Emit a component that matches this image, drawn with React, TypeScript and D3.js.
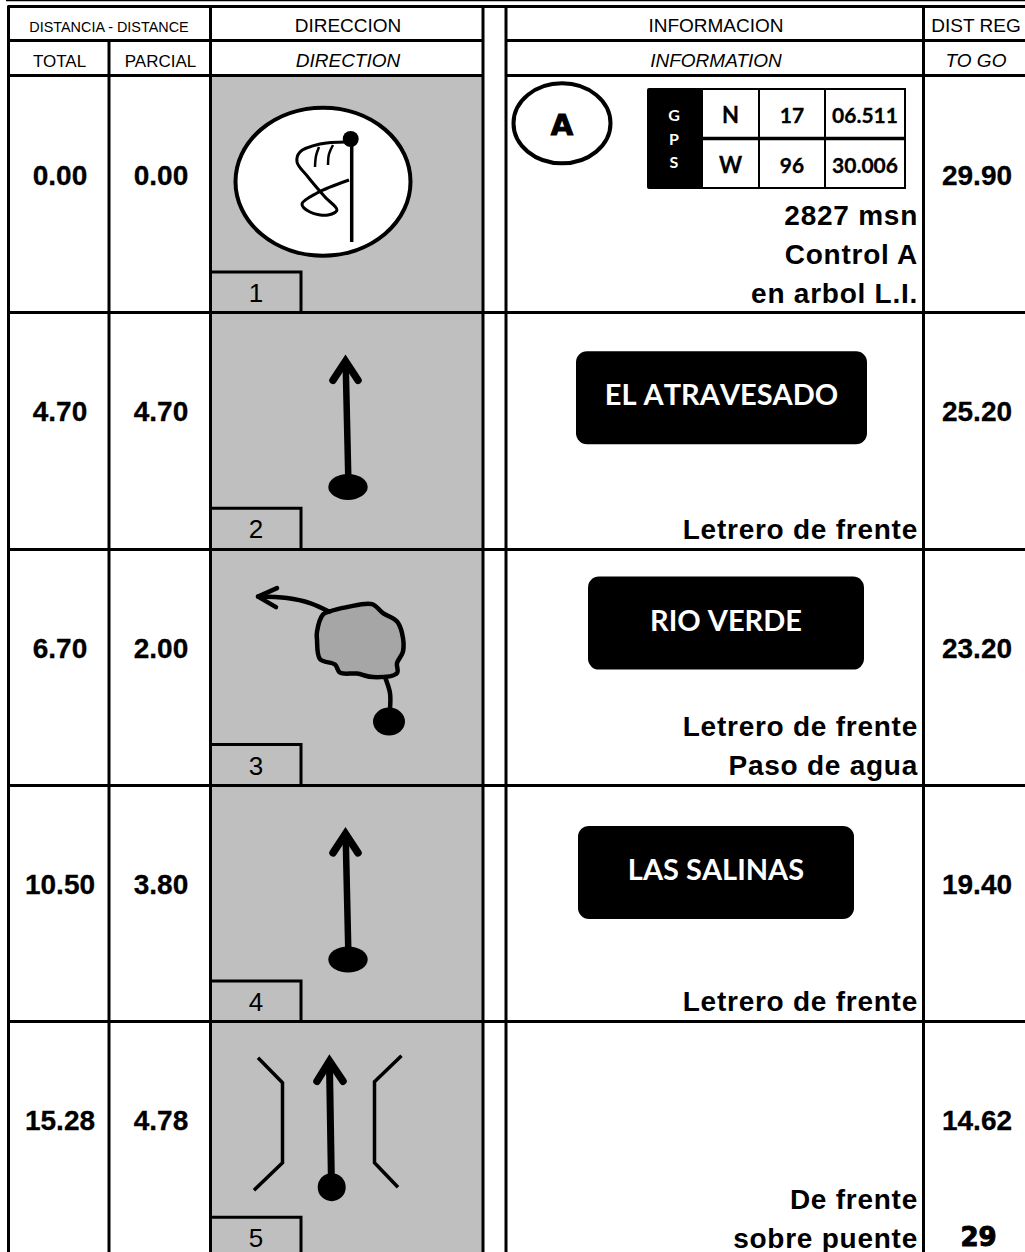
import React from "react";
import * as d3 from "d3";

const width = 1025;
const height = 1252;

// table data
const totals = ["0.00", "4.70", "6.70", "10.50", "15.28"];
const parciales = ["0.00", "4.70", "2.00", "3.80", "4.78"];
const toGo = ["29.90", "25.20", "23.20", "19.40", "14.62"];
const infoLines = [
  ["2827 msn", "Control A", "en arbol L.I."],
  ["Letrero de frente"],
  ["Letrero de frente", "Paso de agua"],
  ["Letrero de frente"],
  ["De frente", "sobre puente"],
];
const signNames = ["", "EL ATRAVESADO", "RIO VERDE", "LAS SALINAS", ""];
const signLeft = [0, 576, 588, 578, 0];
const signRight = [0, 867, 864, 854, 0];
const signTop = [0, 39, 28, 41, 0];
const gpsRows = [
  ["N", "17", "06.511"],
  ["W", "96", "30.006"],
];
const gpsLetters = ["G", "P", "S"];
const columnEdges = [8.5, 109, 210.5, 483, 506, 923.5];
const pageNumber = "29";

const rowY = d3.scaleLinear().domain([0, 5]).range([76, 1257.5]);
const sans = "'Liberation Sans', Arial, sans-serif";
const calibri = "Lato, sans-serif";
const gray = "#bfbfbf";
const grid = 3;

const curve = d3.line().curve(d3.curveCatmullRom.alpha(0.5));
const straight = d3.line();
const closed = d3.line().curve(d3.curveCatmullRomClosed.alpha(0.5));

// hand drawn icons, points are local to the row top
const flagCloth: [number, number][] = [[347, 66], [320, 68], [300, 76], [297, 86], [308, 101], [325, 121], [337, 134], [328, 139], [310, 136], [302, 128], [317, 117], [349, 104]];
const lakeOutline: [number, number][] = [[329, 63], [347, 58.5], [372, 55.5], [383, 64.5], [397, 73], [402, 84.5], [403, 103], [397, 114.5], [397, 124.5], [373, 128.5], [357, 125], [340, 124], [335, 116], [320, 110.5], [317, 91], [317, 83], [323, 66]];
const lakeExit: [number, number][] = [[329, 63], [310, 54.5], [287, 49.5], [258, 48]];
const lakeEntry: [number, number][] = [[385, 128.5], [390, 144.5], [390, 160]];

function Arrow() {
  return (
    <g fill="none" stroke="#000">
      <path d={straight([[348.3, 166], [345.7, 52]]) ?? ""} strokeWidth={6.5} />
      <path d={straight([[333, 68], [345.5, 49], [358, 68]]) ?? ""} strokeWidth={7.5} strokeLinecap="round" strokeLinejoin="miter" />
      <ellipse cx={348} cy={174.6} rx={19.7} ry={13} fill="#000" stroke="none" />
    </g>
  );
}

function Flag() {
  return (
    <g fill="none" stroke="#000" strokeWidth={3.5}>
      <ellipse cx={323} cy={105.7} rx={87.5} ry={74} fill="#fff" strokeWidth={4} />
      <path d={curve(flagCloth) ?? ""} strokeWidth={3} />
      <path d={curve([[315, 91], [316, 80], [319, 71]]) ?? ""} strokeWidth={2.5} />
      <path d={curve([[328, 89], [329, 78], [333, 69]]) ?? ""} strokeWidth={2.5} />
      <path d={straight([[351.7, 64], [351.7, 166]]) ?? ""} />
      <circle cx={350.7} cy={63} r={8} fill="#000" stroke="none" />
    </g>
  );
}

function Lake() {
  return (
    <g fill="none" stroke="#000" strokeWidth={4.5} strokeLinecap="round" strokeLinejoin="round">
      <path d={closed(lakeOutline) ?? ""} fill="#a6a6a6" />
      <path d={curve(lakeExit) ?? ""} />
      <path d={straight([[277, 39.5], [258, 48], [276, 58.5]]) ?? ""} />
      <path d={curve(lakeEntry) ?? ""} />
      <ellipse cx={389} cy={173} rx={16} ry={14} fill="#000" stroke="none" />
    </g>
  );
}

function Bridge() {
  return (
    <g fill="none" stroke="#000">
      <path d={straight([[258, 36.5], [282.5, 61.5], [282.5, 141.5], [254, 169]]) ?? ""} strokeWidth={3.5} />
      <path d={straight([[401.5, 34.5], [374.5, 60.5], [374.5, 141.5], [398, 166]]) ?? ""} strokeWidth={3.5} />
      <path d={straight([[331.5, 166], [329.5, 45]]) ?? ""} strokeWidth={7} />
      <path d={straight([[317, 60], [329.5, 40], [343, 60]]) ?? ""} strokeWidth={7.5} strokeLinecap="round" strokeLinejoin="miter" />
      <circle cx={331.7} cy={166} r={14} fill="#000" stroke="none" />
    </g>
  );
}

const icons = [Flag, Arrow, Lake, Arrow, Bridge];

function Gps() {
  const cols = [702, 759, 825, 905];
  const rows = [89, 139, 188];
  return (
    <g>
      <rect x={647} y={88} width={56} height={101} rx={2} fill="#000" />
      {gpsLetters.map((l, i) => (
        <text key={l} x={674} y={121 + i * 23.5} textAnchor="middle" fontFamily={calibri} fontWeight={700} fontSize={16} fill="#fff">{l}</text>
      ))}
      {gpsRows.map((r, i) => r.map((v, j) => (
        <g key={v}>
          <rect x={cols[j]} y={rows[i]} width={cols[j + 1] - cols[j]} height={rows[i + 1] - rows[i]} fill="#fff" stroke="#000" strokeWidth={2} />
          <text x={(cols[j] + cols[j + 1]) / 2} y={rows[i] + 33.5} textAnchor="middle" fontFamily={calibri} fontWeight={700} fontSize={j === 0 ? 22 : 21} fill="#000" stroke="#000" strokeWidth={0.3}>{v}</text>
        </g>
      )))}
      <line x1={702} x2={905} y1={138.5} y2={138.5} stroke="#000" strokeWidth={3.5} />
    </g>
  );
}

export default function App() {
  const [x0, x1, x2, x3, x4] = columnEdges;
  const tops = d3.range(5).map((i) => rowY(i));
  const hLine = (y: number, a: number, b: number, w = grid) => (
    <line key={`${y}-${a}`} x1={a} x2={b} y1={y} y2={y} stroke="#000" strokeWidth={w} />
  );
  const vLine = (x: number, a: number, b: number) => (
    <line key={`${x}-${a}`} x1={x} x2={x} y1={a} y2={b} stroke="#000" strokeWidth={grid} />
  );
  const header = (label: string, x: number, y: number, size: number, italic = false) => (
    <text key={label} x={x} y={y} textAnchor="middle" fontFamily={sans} fontSize={size} fontStyle={italic ? "italic" : "normal"} fill="#000">{label}</text>
  );

  return (
    <svg width={width} height={height} style={{ position: "absolute", left: 0, top: 0, background: "#fff" }}>
      <rect x={x2} y={rowY(0)} width={x3 - x2} height={height - rowY(0)} fill={gray} />

      {hLine(0.5, 6, width, 1.5)}
      {hLine(6.5, x0 - 1, width)}
      {hLine(40.5, x0, x3)}
      {hLine(40.5, x4, width)}
      {hLine(75.5, x0, x3)}
      {hLine(75.5, x4, width)}

      {tops.map((top, i) => {
        const Icon = icons[i];
        const lines = infoLines[i];
        return (
          <g key={i} transform={`translate(0,${top})`}>
            <text x={60} y={109} textAnchor="middle" fontFamily={sans} fontWeight={700} fontSize={28} stroke="#000" strokeWidth={0.3}>{totals[i]}</text>
            <text x={161} y={109} textAnchor="middle" fontFamily={sans} fontWeight={700} fontSize={28} stroke="#000" strokeWidth={0.3}>{parciales[i]}</text>
            <text x={977} y={109} textAnchor="middle" fontFamily={sans} fontWeight={700} fontSize={28} stroke="#000" strokeWidth={0.3}>{toGo[i]}</text>
            <Icon />
            <path d={straight([[x2, 196], [301, 196], [301, 237]]) ?? ""} fill="none" stroke="#000" strokeWidth={grid} />
            <text x={256} y={226} textAnchor="middle" fontFamily={sans} fontSize={26}>{i + 1}</text>
            {lines.map((l, k) => (
              <text key={l} x={918} y={226.5 - (lines.length - 1 - k) * 39} textAnchor="end" fontFamily={sans} fontWeight={700} fontSize={28} letterSpacing={0.75}>{l}</text>
            ))}
            {signNames[i] && (
              <g>
                <rect x={signLeft[i]} y={signTop[i]} width={signRight[i] - signLeft[i]} height={93} rx={11} fill="#000" />
                <text x={(signLeft[i] + signRight[i]) / 2} y={signTop[i] + 54} textAnchor="middle" fontFamily={calibri} fontWeight={700} fontSize={29} fill="#fff" style={{ fontKerning: "none" }}>{signNames[i]}</text>
              </g>
            )}
          </g>
        );
      })}

      {d3.range(1, 5).map((i) => hLine(Math.round(rowY(i)) + 0.5, x0 - 1, width))}
      {columnEdges.filter((x) => x !== x1).map((x) => vLine(x, 6, height))}
      {vLine(x1, 40, height)}

      {header("DISTANCIA - DISTANCE", 109, 32, 14.4)}
      {header("TOTAL", 59.5, 67, 17)}
      {header("PARCIAL", 160.5, 67, 17)}
      {header("DIRECCION", 348, 32, 19)}
      {header("DIRECTION", 348, 67, 19, true)}
      {header("INFORMACION", 716, 32, 19)}
      {header("INFORMATION", 716, 67, 19, true)}
      {header("DIST REG", 976, 32, 19)}
      {header("TO GO", 976, 67, 19, true)}

      <ellipse cx={562} cy={123.3} rx={48.5} ry={40} fill="#fff" stroke="#000" strokeWidth={4} />
      <text x={562} y={135} textAnchor="middle" fontFamily="'DejaVu Sans', sans-serif" fontWeight={700} fontSize={29} stroke="#000" strokeWidth={1}>A</text>
      <Gps />
      <text x={978.5} y={1246} textAnchor="middle" fontFamily="'DejaVu Sans', sans-serif" fontWeight={700} fontSize={26} stroke="#000" strokeWidth={1}>{pageNumber}</text>
    </svg>
  );
}
